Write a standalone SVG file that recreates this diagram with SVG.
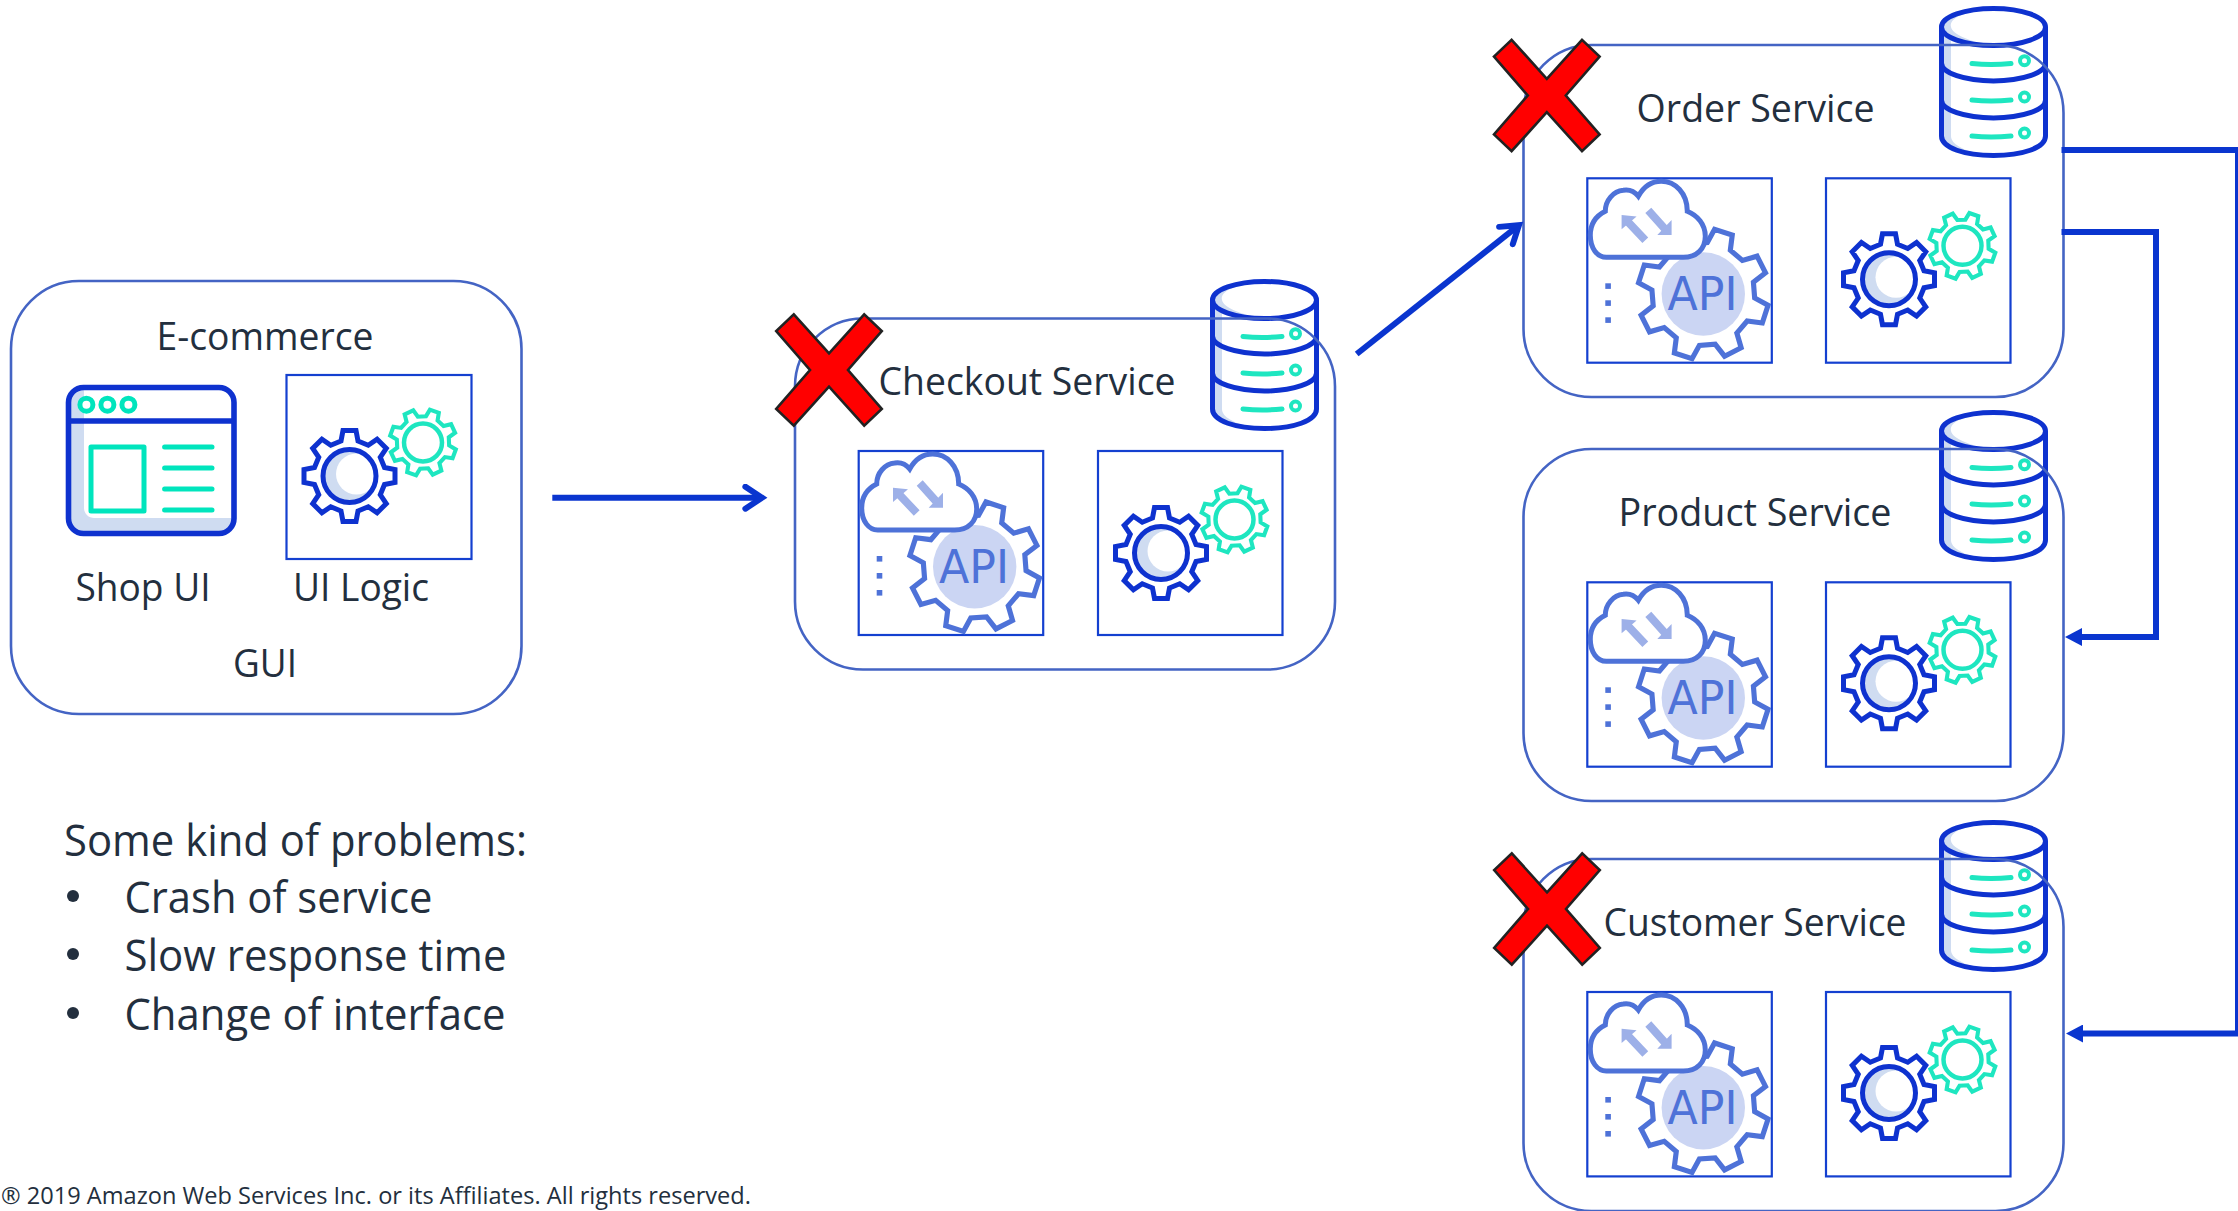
<svg xmlns="http://www.w3.org/2000/svg" width="2238" height="1211" viewBox="0 0 2238 1211">
<style>
text{font-family:"Open Sans","Noto Sans","Liberation Sans",sans-serif;fill:#232f3e;font-size:37.5px}
.big{font-size:44px}
.foot{font-size:23px}
.api{font-family:"DejaVu Sans",sans-serif;font-size:47px;fill:#4e72d8}
.svc{fill:#fff;stroke:none}
.out{fill:none;stroke:#4464c4;stroke-width:2.6}
.ibox{fill:#fff;stroke:#1440d0;stroke-width:2.2}
.b{fill:none;stroke:#0e32cf;stroke-width:5}
.t{fill:none;stroke:#1ee6c0;stroke-width:5;stroke-linecap:round}
.shade{fill:#cfdcf1;stroke:none}
.conn{fill:none;stroke:#0a35cf;stroke-width:6}
.cross{fill:#ff0000;stroke:#222;stroke-width:2.6}
</style>
<defs>
<path id="gearShape" d="M-8.5-35L-6.5-45.5L6.5-45.5L8.5-35L18.74-30.76L27.58-36.77L36.77-27.58L30.76-18.74L35-8.5L45.5-6.5L45.5 6.5L35 8.5L30.76 18.74L36.77 27.58L27.58 36.77L18.74 30.76L8.5 35L6.5 45.5L-6.5 45.5L-8.5 35L-18.74 30.76L-27.58 36.77L-36.77 27.58L-30.76 18.74L-35 8.5L-45.5 6.5L-45.5-6.5L-35-8.5L-30.76-18.74L-36.77-27.58L-27.58-36.77L-18.74-30.76Z"/>
<g id="gearsIcon">
<g transform="translate(136.5 68.5) rotate(20) scale(.73)"><use href="#gearShape" fill="#fff" stroke="#1ee6c0" stroke-width="5.6"/></g>
<circle cx="136.5" cy="68.5" r="19" fill="#fff" stroke="#1ee6c0" stroke-width="4.5"/>
<g transform="translate(63 102)"><use href="#gearShape" fill="#fff" stroke="#0e32cf" stroke-width="5"/>
<circle r="25" class="shade"/><circle cx="7" cy="-2" r="20.5" fill="#fff"/><circle r="26.5" class="b"/></g>
</g>
<g id="apiIcon">
<g transform="translate(116 115.7) rotate(18) scale(1.43)"><use href="#gearShape" fill="#fff" stroke="#4e72d8" stroke-width="3.6"/></g>
<circle cx="116" cy="115.7" r="41.7" fill="#cbd5f3"/>
<rect x="18" y="105" width="5.6" height="5.6" fill="#4e72d8"/><rect x="18" y="122" width="5.6" height="5.6" fill="#4e72d8"/><rect x="18" y="139" width="5.6" height="5.6" fill="#4e72d8"/>
<path d="M19 79H96C110 79 118 70 118 58C118 46 110 37 100 33C100 15 88 3 74 3C64 3 56 9 51 18C47 13 42 11 36 12C26 13 18 22 18 33C8 38 3 46 3 57C3 70 10 79 19 79Z" fill="#fff" stroke="#4e72d8" stroke-width="5"/>
<path d="M34.3 36.7L49.3 38.3L34.3 51ZM84.3 41.7V56.7H70Z" fill="#9db0e8"/>
<path d="M41 44L58 62M61 32L78 51" fill="none" stroke="#9db0e8" stroke-width="8"/>
</g>
<g id="dbIcon">
<path d="M2.5 21V130C2.5 142 26 149.5 54.5 149.5S106.5 142 106.5 130V21Z" fill="#fff"/>
<path class="shade" d="M3 21C3 10 25 3 50 2.5C25 6 10 12 12 21C13 28 30 35 50 39C25 38 3 30 3 21ZM3 30H12V130C12 138 24 144 40 148C20 147 3 140 3 130Z"/>
<path class="b" d="M2.5 21V130C2.5 142 26 149.5 54.5 149.5S106.5 142 106.5 130V21M2.5 57A52 18 0 0 0 106.5 57M2.5 94A52 18 0 0 0 106.5 94"/>
<ellipse class="b" cx="54.5" cy="21" rx="52" ry="18.5"/>
<path class="t" d="M33 57.5Q52 59.5 72 57.5M33 94Q52 96 72 94M33 130Q52 132 72 130"/>
<circle cx="85.5" cy="54.7" r="4.5" fill="#fff" stroke="#1ee6c0" stroke-width="4"/>
<circle cx="85.5" cy="91" r="4.5" fill="#fff" stroke="#1ee6c0" stroke-width="4"/>
<circle cx="85.5" cy="127" r="4.5" fill="#fff" stroke="#1ee6c0" stroke-width="4"/>
</g>
<polygon id="crossMark" class="cross" points="0,-16.7 35.2,-55.7 52.8,-39 19,0 52.8,39 35.2,55.7 0,16.7 -35.2,55.7 -52.8,39 -19,0 -52.8,-39 -35.2,-55.7"/>
<marker id="openHead" markerUnits="userSpaceOnUse" viewBox="-20 -14 26 28" markerWidth="26" markerHeight="28" refX="-2" refY="0" orient="auto"><path d="M-16.6-11L0 0L-16.6 11" fill="none" stroke="#0a35cf" stroke-width="6" stroke-linecap="round"/></marker>
<marker id="solidHead" markerUnits="userSpaceOnUse" viewBox="0 0 17 18" markerWidth="17" markerHeight="18" refX="7" refY="9" orient="auto"><path d="M0 0L17 9L0 18Z" fill="#0a35cf"/></marker>
</defs>
<rect width="2238" height="1211" fill="#fff"/>

<g id="ecommerce">
<rect class="svc" x="11" y="281" width="510.5" height="433" rx="68"/>
<rect class="out" x="11" y="281" width="510.5" height="433" rx="68"/>
<text x="156.500" y="349.700" textLength="217" lengthAdjust="spacingAndGlyphs">E-commerce</text>
<text x="75.500" y="600.700" textLength="135" lengthAdjust="spacingAndGlyphs">Shop UI</text>
<text x="293" y="600.700" textLength="136" lengthAdjust="spacingAndGlyphs">UI Logic</text>
<text x="233" y="677" textLength="64" lengthAdjust="spacingAndGlyphs">GUI</text>
<g id="shop-ui">
<rect x="68.500" y="387.500" width="165.500" height="146" rx="15" fill="#fff"/>
<path class="shade" d="M68.500 403C68.500 395 75 387.500 84 387.500V508C84 514 89 518 94 518H234C232 527 225 533.500 218 533.500H84C75 533.500 68.500 527 68.500 519Z"/>
<rect class="b" x="68.500" y="387.500" width="165.500" height="146" rx="15" style="stroke-width:5.6"/>
<path class="b" style="stroke-width:5.6" d="M68.500 421H234"/>
<circle cx="86.400" cy="404.700" r="6.500" fill="#fff" stroke="#00e5bd" stroke-width="5"/>
<circle cx="107.400" cy="404.700" r="6.500" fill="#fff" stroke="#00e5bd" stroke-width="5"/>
<circle cx="128.400" cy="404.700" r="6.500" fill="#fff" stroke="#00e5bd" stroke-width="5"/>
<rect x="91" y="447" width="53" height="64" fill="none" stroke="#00e5bd" stroke-width="5" stroke-linejoin="round"/>
<path d="M164.600 447H212M164.600 468H212M164.600 489H212M164.600 510H212" fill="none" stroke="#00e5bd" stroke-width="5" stroke-linecap="round"/>
</g>
<g id="ui-logic">
<rect class="ibox" x="286.500" y="375" width="185" height="184"/>
<use href="#gearsIcon" x="286.500" y="374"/>
</g>
</g>

<g id="checkout-service">
<rect class="svc" x="795" y="318.500" width="540" height="351" rx="68"/>
<use href="#dbIcon" x="1210" y="279"/>
<rect class="out" x="795" y="318.500" width="540" height="351" rx="68"/>
<rect class="ibox" x="858.700" y="451" width="184.500" height="184"/>
<use href="#apiIcon" x="858.700" y="451"/>
<text class="api" x="939" y="583" textLength="70" lengthAdjust="spacingAndGlyphs">API</text>
<rect class="ibox" x="1098" y="451" width="184.500" height="184"/>
<use href="#gearsIcon" x="1098" y="451"/>
<text x="878.500" y="394.700" textLength="297" lengthAdjust="spacingAndGlyphs">Checkout Service</text>
<use href="#crossMark" x="829" y="370"/>
</g>

<g id="order-service">
<rect class="svc" x="1523.500" y="45" width="540" height="352" rx="68"/>
<use href="#dbIcon" x="1939" y="6"/>
<rect class="out" x="1523.500" y="45" width="540" height="352" rx="68"/>
<rect class="ibox" x="1587.300" y="178.300" width="184.500" height="184.400"/>
<use href="#apiIcon" x="1587.300" y="178.300"/>
<text class="api" x="1667.500" y="310.300" textLength="70" lengthAdjust="spacingAndGlyphs">API</text>
<rect class="ibox" x="1826" y="178.300" width="184.500" height="184.400"/>
<use href="#gearsIcon" x="1826" y="177.300"/>
<text x="1636.600" y="121.700" textLength="238" lengthAdjust="spacingAndGlyphs">Order Service</text>
<use href="#crossMark" x="1546.800" y="95.500"/>
</g>

<g id="product-service">
<rect class="svc" x="1523.500" y="449" width="540" height="352" rx="68"/>
<use href="#dbIcon" x="1939" y="410"/>
<rect class="out" x="1523.500" y="449" width="540" height="352" rx="68"/>
<rect class="ibox" x="1587.300" y="582.300" width="184.500" height="184.400"/>
<use href="#apiIcon" x="1587.300" y="582.300"/>
<text class="api" x="1667.500" y="714.300" textLength="70" lengthAdjust="spacingAndGlyphs">API</text>
<rect class="ibox" x="1826" y="582.300" width="184.500" height="184.400"/>
<use href="#gearsIcon" x="1826" y="581.300"/>
<text x="1618.500" y="525.700" textLength="273" lengthAdjust="spacingAndGlyphs">Product Service</text>
</g>

<g id="customer-service">
<rect class="svc" x="1523.500" y="859" width="540" height="352" rx="68"/>
<use href="#dbIcon" x="1939" y="820"/>
<rect class="out" x="1523.500" y="859" width="540" height="352" rx="68"/>
<rect class="ibox" x="1587.300" y="992" width="184.500" height="184.400"/>
<use href="#apiIcon" x="1587.300" y="992"/>
<text class="api" x="1667.500" y="1124" textLength="70" lengthAdjust="spacingAndGlyphs">API</text>
<rect class="ibox" x="1826" y="992" width="184.500" height="184.400"/>
<use href="#gearsIcon" x="1826" y="991"/>
<text x="1603.500" y="935.700" textLength="303" lengthAdjust="spacingAndGlyphs">Customer Service</text>
<use href="#crossMark" x="1547" y="909"/>
</g>

<g id="connectors">
<path class="conn" d="M552.300 497.700H760" marker-end="url(#openHead)"/>
<path class="conn" d="M1356.700 354L1517.400 226.400" marker-end="url(#openHead)"/>
<path class="conn" d="M2061.500 232H2156V637H2075" marker-end="url(#solidHead)"/>
<path class="conn" d="M2061.500 150H2238V1033.500H2076" marker-end="url(#solidHead)"/>
</g>

<g id="problems">
<text class="big" x="64" y="855.700" textLength="463" lengthAdjust="spacingAndGlyphs">Some kind of problems:</text>
<circle cx="73" cy="896" r="6" fill="#232f3e"/>
<text class="big" x="124.500" y="913" textLength="308" lengthAdjust="spacingAndGlyphs">Crash of service</text>
<circle cx="73" cy="954" r="6" fill="#232f3e"/>
<text class="big" x="124.500" y="971" textLength="382" lengthAdjust="spacingAndGlyphs">Slow response time</text>
<circle cx="73" cy="1013" r="6" fill="#232f3e"/>
<text class="big" x="124.500" y="1029.700" textLength="381" lengthAdjust="spacingAndGlyphs">Change of interface</text>
</g>
<text class="foot" x="1" y="1204" textLength="750" lengthAdjust="spacingAndGlyphs">® 2019 Amazon Web Services Inc. or its Affiliates. All rights reserved.</text>
</svg>
